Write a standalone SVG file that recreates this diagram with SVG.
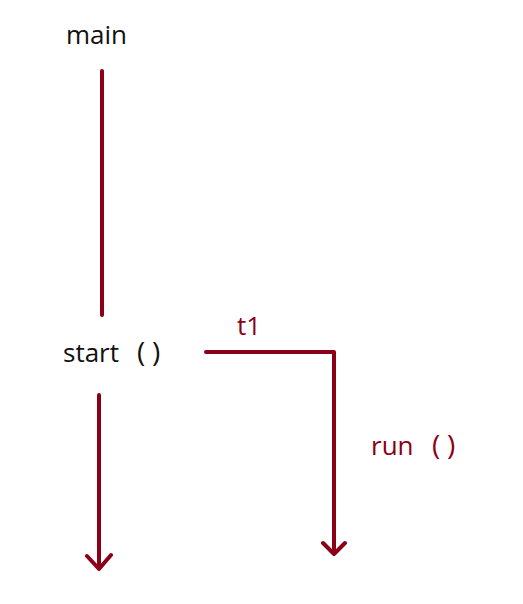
<svg xmlns="http://www.w3.org/2000/svg" width="523" height="604" viewBox="0 0 523 604">
<style>
.ln{stroke:#8b0016;stroke-width:4;fill:none;stroke-linecap:round;stroke-linejoin:round}
.t{font-family:"Open Sans","Noto Sans",sans-serif;font-size:26px}
.p{font-size:28px}
.k{fill:#111}
.r{fill:#8b0016}
</style>
<rect width="523" height="604" fill="#fff"/>
<g id="main"><text class="t k" x="66" y="44">main</text></g>
<g id="start"><text class="t k" x="63" y="362">start<tspan class="p" x="137">(</tspan><tspan class="p" x="152">)</tspan></text></g>
<g id="t1"><text class="t r" x="237" y="335">t1</text></g>
<g id="run"><text class="t r" x="371" y="455">run<tspan class="p" x="432">(</tspan><tspan class="p" x="447">)</tspan></text></g>
<g id="connectors">
<line class="ln" x1="102" y1="71" x2="102" y2="315"/>
<path class="ln" d="M99 395 V569 M87 556 L99 569 L111 555"/>
<path class="ln" d="M206 352 H334 V554 M323 543 L334 554 L345 543"/>
</g>
</svg>
